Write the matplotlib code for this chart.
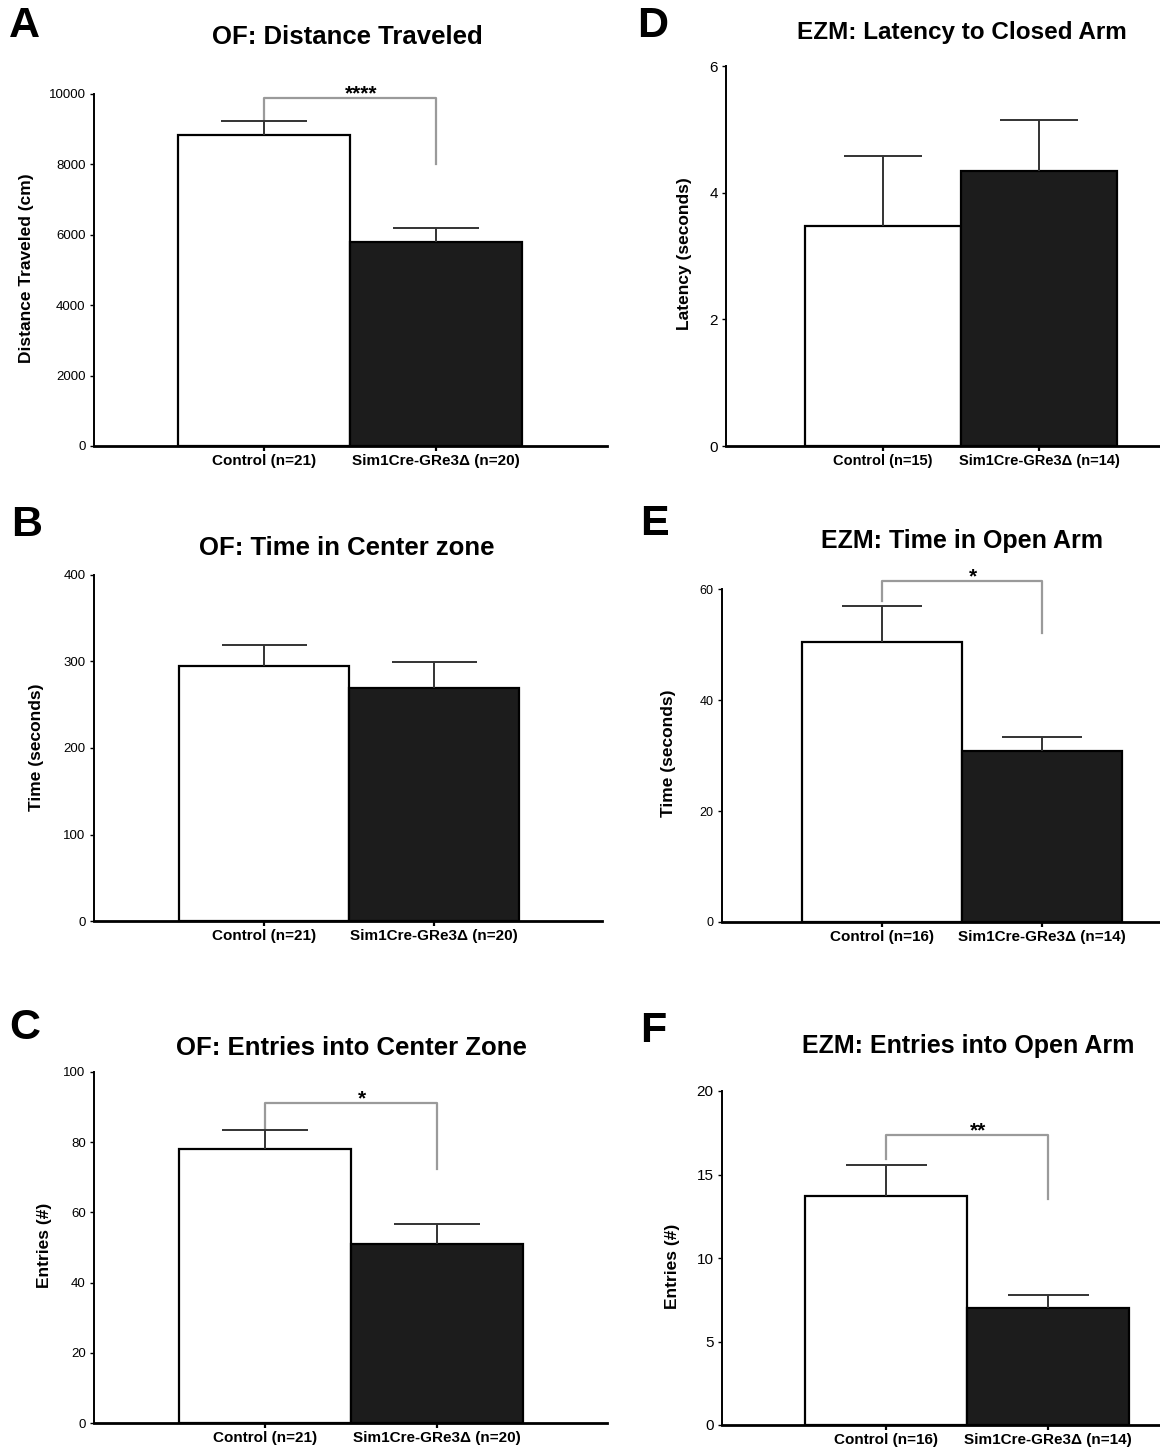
import matplotlib
matplotlib.use("Agg")
import matplotlib.pyplot as plt

plt.rcParams["font.family"] = ["Liberation Sans", "DejaVu Sans"]

W_PX, H_PX = 1160, 1448

# ---- data -------------------------------------------------------------------
of_groups = ["Control (n=21)", "Sim1Cre-GRe3Δ (n=20)"]
ezm_latency_groups = ["Control (n=15)", "Sim1Cre-GRe3Δ (n=14)"]
ezm_groups = ["Control (n=16)", "Sim1Cre-GRe3Δ (n=14)"]

distance_mean = [8830, 5790]
distance_sem = [390, 405]

center_time_mean = [295, 269]
center_time_sem = [24, 30]

center_entries_mean = [78.0, 51.0]
center_entries_sem = [5.6, 5.7]

latency_mean = [3.48, 4.34]
latency_sem = [1.10, 0.81]

open_time_mean = [50.5, 30.9]
open_time_sem = [6.5, 2.5]

open_entries_mean = [13.7, 7.0]
open_entries_sem = [1.85, 0.8]

# significance brackets: (label, bracket top, left leg end, right leg end)
distance_sig = ("****", 9900, 9250, 8000)
center_entries_sig = ("*", 91.2, 84.0, 72.3)
open_time_sig = ("*", 61.5, 57.8, 52.0)
open_entries_sig = ("**", 17.35, 15.9, 13.55)

# ---- layout (pixel boxes of each panel) -------------------------------------
panels = [
    dict(letter="A", letter_xy=(24, 26),
         title="OF: Distance Traveled", title_xy=(347, 37), title_fs=18.5,
         ylabel="Distance Traveled (cm)", ylabel_xy=(27, 268),
         groups=of_groups, mean=distance_mean, sem=distance_sem, sig=distance_sig,
         yticks=range(0, 10001, 2000), tick_fs=9.5, xtick_fs=11,
         box=dict(spine=94, right=607, top=94, bottom=446, bar_left=178, bar_mid=350)),
    dict(letter="B", letter_xy=(27, 525),
         title="OF: Time in Center zone", title_xy=(347, 548), title_fs=18.5,
         ylabel="Time (seconds)", ylabel_xy=(37, 747),
         groups=of_groups, mean=center_time_mean, sem=center_time_sem, sig=None,
         yticks=range(0, 401, 100), tick_fs=9.5, xtick_fs=11,
         box=dict(spine=94, right=602, top=575, bottom=921, bar_left=179, bar_mid=349)),
    dict(letter="C", letter_xy=(25, 1028),
         title="OF: Entries into Center Zone", title_xy=(351, 1048), title_fs=18.5,
         ylabel="Entries (#)", ylabel_xy=(45, 1245),
         groups=of_groups, mean=center_entries_mean, sem=center_entries_sem,
         sig=center_entries_sig,
         yticks=range(0, 101, 20), tick_fs=9.5, xtick_fs=11,
         box=dict(spine=94, right=607, top=1072, bottom=1423, bar_left=179, bar_mid=351)),
    dict(letter="D", letter_xy=(653, 26),
         title="EZM: Latency to Closed Arm", title_xy=(962, 33), title_fs=17.5,
         ylabel="Latency (seconds)", ylabel_xy=(685, 254),
         groups=ezm_latency_groups, mean=latency_mean, sem=latency_sem, sig=None,
         yticks=range(0, 7, 2), tick_fs=11, xtick_fs=10.5,
         box=dict(spine=726, right=1200, top=66, bottom=446, bar_left=805, bar_mid=961)),
    dict(letter="E", letter_xy=(654, 524),
         title="EZM: Time in Open Arm", title_xy=(962, 541), title_fs=18,
         ylabel="Time (seconds)", ylabel_xy=(669, 753),
         groups=ezm_groups, mean=open_time_mean, sem=open_time_sem, sig=open_time_sig,
         yticks=range(0, 61, 20), tick_fs=9, xtick_fs=11,
         box=dict(spine=722, right=1200, top=589, bottom=922, bar_left=802, bar_mid=962)),
    dict(letter="F", letter_xy=(653, 1031),
         title="EZM: Entries into Open Arm", title_xy=(968, 1046), title_fs=18,
         ylabel="Entries (#)", ylabel_xy=(673, 1266),
         groups=ezm_groups, mean=open_entries_mean, sem=open_entries_sem,
         sig=open_entries_sig,
         yticks=range(0, 21, 5), tick_fs=11, xtick_fs=11,
         box=dict(spine=722, right=1200, top=1091, bottom=1425, bar_left=805, bar_mid=967)),
]

BAR_COLORS = ["white", "#1c1c1c"]
ERR_COLOR = "#333333"
SIG_COLOR = "#9a9a9a"


def fx(px):
    return px / W_PX


def fy(py):
    return 1 - py / H_PX


def add_panel(fig, p):
    b = p["box"]
    ax = fig.add_axes([fx(b["spine"]), fy(b["bottom"]),
                       (b["right"] - b["spine"]) / W_PX,
                       (b["bottom"] - b["top"]) / H_PX])
    # one data unit = one bar width, bars centred on 0 and 1
    w = b["bar_mid"] - b["bar_left"]
    c0 = b["bar_left"] + w / 2
    ax.set_xlim((b["spine"] - c0) / w, (b["right"] - c0) / w)
    yt = list(p["yticks"])
    ax.set_ylim(0, yt[-1])

    xs = [0, 1]
    ax.bar(xs, p["mean"], width=1.0, color=BAR_COLORS, edgecolor="black",
           linewidth=1.6, zorder=2)
    for x, m, s in zip(xs, p["mean"], p["sem"]):
        ax.vlines(x, m, m + s, color=ERR_COLOR, linewidth=1.4, zorder=3)
        ax.hlines(m + s, x - 0.25, x + 0.25, color=ERR_COLOR, linewidth=1.4, zorder=3)

    if p["sig"] is not None:
        label, top, left_end, right_end = p["sig"]
        ax.plot([0, 0, 1, 1], [left_end, top, top, right_end], color=SIG_COLOR,
                linewidth=1.6, zorder=1, clip_on=False)
        # stars sit a little right of the bracket's midpoint
        ax.annotate(label, xy=(0.5, top), xytext=(8, -1), textcoords="offset points",
                    ha="center", va="baseline", fontsize=15, fontweight="bold",
                    annotation_clip=False)

    ax.set_yticks(yt)
    ax.set_yticklabels([str(v) for v in yt], fontsize=p["tick_fs"])
    ax.set_xticks(xs)
    ax.set_xticklabels(p["groups"], fontsize=p["xtick_fs"], fontweight="bold")
    ax.tick_params(axis="y", direction="out", length=3, width=1, pad=3)
    ax.tick_params(axis="x", direction="out", length=3.5, width=1.6, pad=2)

    for side in ("top", "right"):
        ax.spines[side].set_visible(False)
    ax.spines["left"].set_linewidth(1.4)
    ax.spines["bottom"].set_linewidth(2.0)
    ax.patch.set_alpha(0)

    fig.text(fx(p["title_xy"][0]), fy(p["title_xy"][1]), p["title"],
             ha="center", va="center", fontsize=p["title_fs"], fontweight="bold")
    fig.text(fx(p["ylabel_xy"][0]), fy(p["ylabel_xy"][1]), p["ylabel"],
             ha="center", va="center", rotation=90, fontsize=12.5, fontweight="bold")
    fig.text(fx(p["letter_xy"][0]), fy(p["letter_xy"][1]), p["letter"],
             ha="center", va="center", fontsize=31, fontweight="bold")
    return ax


fig = plt.figure(figsize=(W_PX / 100, H_PX / 100), dpi=100)
for p in panels:
    add_panel(fig, p)

fig.savefig("out.png", dpi=100)
plt.close(fig)
